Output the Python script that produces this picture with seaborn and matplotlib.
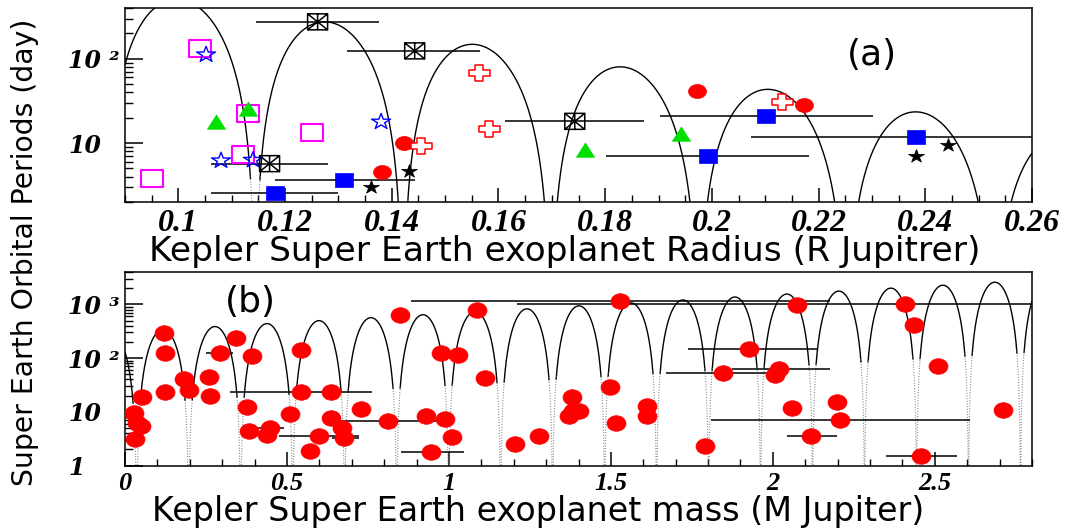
import numpy as np
import matplotlib
matplotlib.use("Agg")
import matplotlib.pyplot as plt
from matplotlib.path import Path
import seaborn as sns

# ---------------- panel (a): orbital period vs radius ----------------
a_sq_open_r = [0.0951, 0.1041, 0.1131, 0.1121, 0.1250]
a_sq_open_p = [3.83, 131, 22.6, 7.3, 13.4]

a_star_open_r = [0.1052, 0.1080, 0.1140, 0.1380]
a_star_open_p = [112, 6.2, 6.3, 17.9]

a_tri_r = [0.1071, 0.1130, 0.1763, 0.1943]
a_tri_p = [16.8, 24.3, 7.9, 12.2]

a_box_r = [0.1171, 0.1261, 0.1443, 0.1743]
a_box_p = [5.7, 274, 124, 18.1]
a_box_lo = [0.1061, 0.1146, 0.1316, 0.1613]
a_box_hi = [0.1281, 0.1376, 0.1566, 0.1873]

a_sq_r = [0.1181, 0.1311, 0.1993, 0.2102, 0.2382]
a_sq_p = [2.59, 3.66, 7.06, 20.8, 11.9]
a_sq_lo = [0.1061, 0.1181, 0.1802, 0.1902, 0.2073]
a_sq_hi = [0.1300, 0.1443, 0.2182, 0.2302, 0.2690]

a_dot_r = [0.1381, 0.1422, 0.1973, 0.2173]
a_dot_p = [4.6, 10.0, 42, 28.3]

a_plus_r = [0.1455, 0.1563, 0.1582, 0.2132]
a_plus_p = [9.3, 68, 14.7, 31]

a_star_r = [0.1361, 0.1433, 0.2382, 0.2443]
a_star_p = [3.05, 4.7, 7.06, 9.55]

a_xticks = [0.10, 0.12, 0.14, 0.16, 0.18, 0.20, 0.22, 0.24, 0.26]
a_xlabels = ["0.1", "0.12", "0.14", "0.16", "0.18", "0.2", "0.22", "0.24", "0.26"]
a_yticks = [10, 100]
a_ylabels = ["10", "10 \u00b2"]

# ---------------- panel (b): orbital period vs mass ----------------
b_mass = [0.028, 0.036, 0.049, 0.031, 0.054, 0.119, 0.122, 0.125, 0.181, 0.199,
          0.258, 0.261, 0.292, 0.343, 0.393, 0.378, 0.383, 0.449, 0.437, 0.509,
          0.542, 0.542, 0.570, 0.598, 0.635, 0.635, 0.671, 0.677, 0.728, 0.813,
          0.848, 0.929, 0.944, 0.977, 1.029, 1.088, 1.112, 0.988, 1.009, 1.205,
          1.278, 1.380, 1.383, 1.371, 1.402, 1.498, 1.517, 1.527, 1.610, 1.610,
          1.789, 1.847, 1.926, 2.018, 2.007, 2.074, 2.059, 2.198, 2.208, 2.119,
          2.408, 2.437, 2.510, 2.458, 2.709]
b_period = [9.5, 6.3, 5.4, 3.1, 18.6, 295, 126, 23.5, 40, 25,
            43.5, 20, 126, 232, 107, 12.3, 4.3, 4.9, 3.7, 9.1,
            141, 23.7, 1.9, 3.6, 22.9, 7.6, 4.9, 3.2, 11.2, 6.8,
            640, 8.3, 1.76, 126, 116, 795, 43, 7.3, 3.36, 2.5,
            3.6, 18.5, 10.5, 8.4, 10.5, 28.6, 6.1, 1130, 12.9, 8.4,
            2.3, 52, 145, 62, 48, 980, 12, 15.5, 7.0, 3.6,
            1016, 408, 71, 1.49, 10.9]
# mass uncertainty ranges (NaN where none is drawn)
nan = np.nan
b_mass_lo = [nan] * len(b_mass)
b_mass_hi = [nan] * len(b_mass)
for i, lo, hi in [(12, 0.251, 0.333), (17, 0.408, 0.490), (21, 0.323, 0.764),
                  (23, 0.475, 0.723), (27, 0.640, 0.723), (29, 0.645, 0.996),
                  (32, 0.851, 1.048), (47, 0.882, 2.177), (51, 1.670, 2.030),
                  (52, 1.739, 2.139), (53, 1.873, 2.177), (58, 1.809, 2.609),
                  (59, 2.043, 2.198), (60, 1.210, 3.600), (63, 2.348, 2.570)]:
    b_mass_lo[i] = lo
    b_mass_hi[i] = hi

b_xticks = [0, 0.5, 1, 1.5, 2, 2.5]
b_xlabels = ["0", "0.5", "1", "1.5", "2", "2.5"]
b_yticks = [1, 10, 100, 1000]
b_ylabels = ["1", "10", "10 \u00b2", "10 \u00b3"]

# model arches: amplitude * exp(rate*(x-x_ref)) * sin^2(pi*(x-zero)/spacing)
a_arch = dict(amp=277.0, rate=-22.2, x_ref=0.1274, zero=0.1144, spacing=0.0277)
b_arch = dict(amp=340.0, rate=0.789, x_ref=0.116, zero=0.036, spacing=0.1605)


def arch_curve(x, amp, rate, x_ref, zero, spacing):
    s2 = np.sin(np.pi * (x - zero) / spacing) ** 2
    return amp * np.exp(rate * (x - x_ref)) * s2, s2


# ---------------- symbols ----------------
M, L, C = Path.MOVETO, Path.LINETO, Path.CLOSEPOLY


def stretch(path, sx):
    v = np.array(path.vertices, dtype=float).copy()
    v[:, 0] *= sx
    return Path(v, path.codes)


rect_path = Path([(-1, -1), (1, -1), (1, 1), (-1, 1), (-1, -1)], [M, L, L, L, C])
box_x_path = Path([(-1, -1), (1, -1), (1, 1), (-1, 1), (-1, -1),
                   (-1, -1), (1, 1), (-1, 1), (1, -1), (0, -1), (0, 1)],
                  [M, L, L, L, C, M, L, M, L, M, L])
w = 0.34
plus_path = Path([(-w, -1), (w, -1), (w, -w), (1, -w), (1, w), (w, w), (w, 1),
                  (-w, 1), (-w, w), (-1, w), (-1, -w), (-w, -w), (-w, -1)],
                 [M] + [L] * 11 + [C])
star_path = Path.unit_regular_star(5, 0.38)
tri_path = Path.unit_regular_polygon(3)
circ_path = Path.unit_circle()

mk_rect_open = stretch(rect_path, 1.28)
mk_rect = stretch(rect_path, 1.28)
mk_box = stretch(box_x_path, 1.25)
mk_plus = stretch(plus_path, 1.24)
mk_star = stretch(star_path, 1.2)
mk_tri = stretch(tri_path, 1.1)
mk_dot_a = stretch(circ_path, 1.28)
mk_dot_b = stretch(circ_path, 1.22)

PT = 72.0 / 100.0  # points per pixel at dpi=100

sns.set_style("ticks", {"xtick.direction": "in", "ytick.direction": "in"})
plt.rcParams["font.family"] = ["DejaVu Sans"]
for key in ("text.color", "axes.labelcolor", "xtick.color", "ytick.color",
            "axes.edgecolor"):
    plt.rcParams[key] = "black"

fig = plt.figure(figsize=(10.65, 5.28), dpi=100)
W, H = 1065.0, 528.0
ax_a = fig.add_axes([125 / W, 1 - 202 / H, 907 / W, 194 / H])
ax_b = fig.add_axes([125 / W, 1 - 465.5 / H, 907 / W, 193.5 / H])


def draw_arches(ax, xlim, params, thr):
    x = np.linspace(xlim[0], xlim[1], 60000)
    p, s2 = arch_curve(x, **params)
    p = np.where(p > 0, p, np.nan)
    solid = np.where(s2 >= thr, p, np.nan)
    dotted = np.where(s2 <= thr * 1.15, p, np.nan)
    ax.plot(x, solid, color="black", lw=1.0, zorder=1)
    ax.plot(x, dotted, color="0.45", lw=0.8, ls=(0, (0.8, 1.6)), zorder=1)


def scatter(ax, x, y, marker, size_px, face, edge, lw, z=3):
    sns.scatterplot(x=x, y=y, ax=ax, marker=marker, s=(size_px * PT) ** 2,
                    facecolor=face, edgecolor=edge, linewidth=lw, zorder=z,
                    legend=False)


tick_font = dict(fontweight="bold", fontstyle="italic", color="black")

# ---- panel (a) ----
a_xlim = (0.09, 0.26)
a_ylim = (2.0, 400.0)
ax_a.set_yscale("log")
draw_arches(ax_a, a_xlim, a_arch, 0.010)
ax_a.hlines(a_box_p, a_box_lo, a_box_hi, colors="black", lw=1.1, zorder=2)
ax_a.hlines(a_sq_p, a_sq_lo, a_sq_hi, colors="black", lw=1.1, zorder=2)
scatter(ax_a, a_sq_open_r, a_sq_open_p, mk_rect_open, 22, "none", "#ff00ff", 1.5)
scatter(ax_a, a_star_open_r, a_star_open_p, mk_star, 19, "none", "#0000ff", 1.0)
scatter(ax_a, a_tri_r, a_tri_p, mk_tri, 19, "#00e000", "#00e000", 0.5)
scatter(ax_a, a_box_r, a_box_p, mk_box, 20, "none", "black", 1.1)
scatter(ax_a, a_sq_r, a_sq_p, mk_rect, 18, "#0000ff", "#0000ff", 0.5)
scatter(ax_a, a_dot_r, a_dot_p, mk_dot_a, 18, "#ff0000", "#ff0000", 0.5)
scatter(ax_a, a_plus_r, a_plus_p, mk_plus, 21, "white", "#ff0000", 1.1)
scatter(ax_a, a_star_r, a_star_p, mk_star, 16, "black", "black", 0.5)
ax_a.set_xlim(*a_xlim)
ax_a.set_ylim(*a_ylim)
ax_a.set_xticks(a_xticks, a_xlabels, fontfamily="Liberation Serif",
                fontsize=23, **tick_font)
ax_a.set_xticks(np.arange(0.09, 0.2601, 0.005), minor=True)
ax_a.set_yticks(a_yticks, a_ylabels, fontfamily="DejaVu Serif",
                fontsize=17, ha="left", **tick_font)
ax_a.yaxis.set_minor_formatter(matplotlib.ticker.NullFormatter())
ax_a.tick_params(axis="x", which="major", length=10, width=1.1, pad=5)
ax_a.tick_params(axis="x", which="minor", length=5, width=1.0)
ax_a.tick_params(axis="y", which="major", length=13, width=1.1, pad=41)
ax_a.tick_params(axis="y", which="minor", length=6, width=1.0)
ax_a.set_xlabel("")
ax_a.set_ylabel("")

# ---- panel (b) ----
b_xlim = (0.0, 2.8)
b_ylim = (1.0, 4000.0)
ax_b.set_yscale("log")
draw_arches(ax_b, b_xlim, b_arch, 0.045)
ax_b.hlines(b_period, b_mass_lo, b_mass_hi, colors="black", lw=1.1, zorder=2)
scatter(ax_b, b_mass, b_period, mk_dot_b, 19, "#ff0000", "#ff0000", 0.5)
ax_b.set_xlim(*b_xlim)
ax_b.set_ylim(*b_ylim)
ax_b.set_xticks(b_xticks, b_xlabels, fontfamily="Liberation Serif",
                fontsize=19, **tick_font)
ax_b.set_xticks(np.arange(0, 2.801, 0.1), minor=True)
ax_b.set_yticks(b_yticks, b_ylabels, fontfamily="DejaVu Serif",
                fontsize=17, ha="left", **tick_font)
ax_b.yaxis.set_minor_formatter(matplotlib.ticker.NullFormatter())
ax_b.tick_params(axis="x", which="major", length=10, width=1.1, pad=5)
ax_b.tick_params(axis="x", which="minor", length=5, width=1.0)
ax_b.tick_params(axis="y", which="major", length=13, width=1.1, pad=41)
ax_b.tick_params(axis="y", which="minor", length=6, width=1.0)
ax_b.set_xlabel("")
ax_b.set_ylabel("")

for ax in (ax_a, ax_b):
    for sp in ax.spines.values():
        sp.set_visible(True)
        sp.set_linewidth(1.1)
        sp.set_color("black")

ax_a.text(0.823, 0.758, "(a)", transform=ax_a.transAxes, fontsize=26,
          ha="center", va="center", color="black")
ax_b.text(0.138, 0.846, "(b)", transform=ax_b.transAxes, fontsize=26,
          ha="center", va="center", color="black")

fig.text(0.5305, 0.523, "Kepler Super Earth exoplanet Radius (R Jupitrer)",
         fontsize=24.8, ha="center", va="center", color="black")
fig.text(0.505, 0.0125, "Kepler Super Earth exoplanet mass (M Jupiter)",
         fontsize=24.0, ha="center", va="baseline", color="black")
fig.text(0.0235, 0.522, "Super Earth Orbital Periods (day)", fontsize=20.3,
         rotation=90, ha="center", va="center", color="black")

fig.savefig("out.png", dpi=100)
